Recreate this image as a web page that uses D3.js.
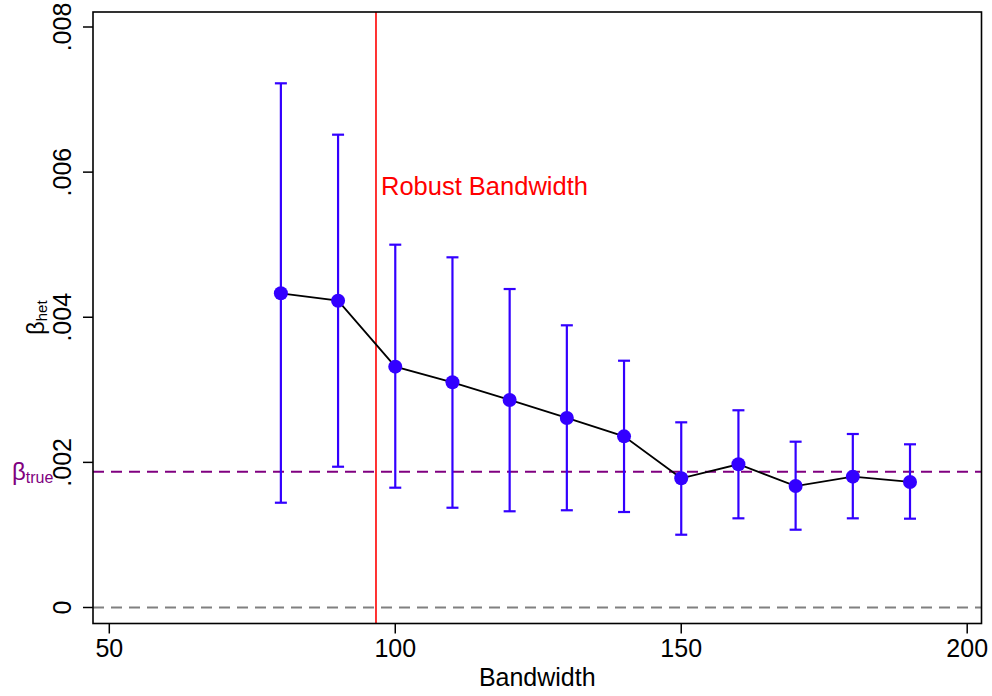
<!DOCTYPE html>
<html>
<head>
<meta charset="utf-8">
<script src="https://cdn.jsdelivr.net/npm/d3@7"></script>
<style>
  html, body { margin: 0; padding: 0; background: #fff; }
  svg { display: block; }
  text { font-family: "Liberation Sans", Arial, Helvetica, sans-serif; }
</style>
</head>
<body>
<svg id="chart" width="992" height="696"></svg>
<script>
// ---- data ----
const bandwidths = [80, 90, 100, 110, 120, 130, 140, 150, 160, 170, 180, 190];
const estimates  = [0.004330, 0.004228, 0.003319, 0.003104, 0.002860, 0.002612, 0.002359, 0.001781, 0.001974, 0.001674, 0.001803, 0.001730];
const ciUpper    = [0.007224, 0.006516, 0.005000, 0.004826, 0.004389, 0.003889, 0.003401, 0.002552, 0.002718, 0.002285, 0.002391, 0.002249];
const ciLower    = [0.001444, 0.001940, 0.001651, 0.001375, 0.001326, 0.001340, 0.001316, 0.001003, 0.001229, 0.001072, 0.001229, 0.001224];
const betaTrue = 0.001872;
const robustBandwidth = 96.63;
const xTicks = [50, 100, 150, 200];
const yTicks = [0, 0.002, 0.004, 0.006, 0.008];
const yTickLabels = ["0", ".002", ".004", ".006", ".008"];
const xTitle = "Bandwidth";
const robustLabel = "Robust Bandwidth";

// ---- layout ----
const svg = d3.select("#chart");
const frame = { left: 93, right: 981.5, top: 12, bottom: 623.5 };
const x = d3.scaleLinear().domain([50, 200]).range([109.3, 967.2]);
const y = d3.scaleLinear().domain([0, 0.008]).range([607.5, 27]);
const blue = "#3300ff";
const fs = 25;

const data = bandwidths.map((b, i) => ({ b, est: estimates[i], hi: ciUpper[i], lo: ciLower[i] }));

// zero line
svg.append("line")
  .attr("x1", frame.left).attr("x2", frame.right)
  .attr("y1", y(0)).attr("y2", y(0))
  .attr("stroke", "#808080").attr("stroke-width", 2)
  .attr("stroke-dasharray", "11,7");

// beta true line
svg.append("line")
  .attr("x1", frame.left).attr("x2", frame.right)
  .attr("y1", y(betaTrue)).attr("y2", y(betaTrue))
  .attr("stroke", "#800080").attr("stroke-width", 2)
  .attr("stroke-dasharray", "11,7");

// robust bandwidth line
svg.append("line")
  .attr("x1", x(robustBandwidth)).attr("x2", x(robustBandwidth))
  .attr("y1", frame.top).attr("y2", frame.bottom)
  .attr("stroke", "#ff0000").attr("stroke-width", 1.6);

svg.append("text")
  .attr("x", x(robustBandwidth) + 5).attr("y", 195)
  .attr("fill", "#ff0000").attr("font-size", 25.5)
  .text(robustLabel);

// error bars
const eb = svg.append("g").attr("stroke", blue).attr("stroke-width", 2.2);
data.forEach(d => {
  eb.append("line").attr("x1", x(d.b)).attr("x2", x(d.b)).attr("y1", y(d.hi)).attr("y2", y(d.lo));
  eb.append("line").attr("x1", x(d.b) - 6).attr("x2", x(d.b) + 6).attr("y1", y(d.hi)).attr("y2", y(d.hi));
  eb.append("line").attr("x1", x(d.b) - 6).attr("x2", x(d.b) + 6).attr("y1", y(d.lo)).attr("y2", y(d.lo));
});

// connecting line
svg.append("path")
  .datum(data)
  .attr("fill", "none").attr("stroke", "#000").attr("stroke-width", 1.8)
  .attr("d", d3.line().x(d => x(d.b)).y(d => y(d.est)));

// points
svg.append("g").selectAll("circle").data(data).join("circle")
  .attr("cx", d => x(d.b)).attr("cy", d => y(d.est)).attr("r", 7)
  .attr("fill", blue);

// frame
svg.append("rect")
  .attr("x", frame.left).attr("y", frame.top)
  .attr("width", frame.right - frame.left).attr("height", frame.bottom - frame.top)
  .attr("fill", "none").attr("stroke", "#000").attr("stroke-width", 1.6);

// x axis ticks
const xa = svg.append("g");
xTicks.forEach(t => {
  xa.append("line").attr("x1", x(t)).attr("x2", x(t)).attr("y1", frame.bottom).attr("y2", frame.bottom + 10)
    .attr("stroke", "#000").attr("stroke-width", 1.5);
  xa.append("text").attr("x", x(t)).attr("y", 656.5).attr("text-anchor", "middle")
    .attr("font-size", fs).text(t);
});
svg.append("text").attr("x", (frame.left + frame.right) / 2).attr("y", 686)
  .attr("text-anchor", "middle").attr("font-size", fs).text(xTitle);

// y axis ticks
const ya = svg.append("g");
yTicks.forEach((t, i) => {
  ya.append("line").attr("x1", frame.left - 10).attr("x2", frame.left).attr("y1", y(t)).attr("y2", y(t))
    .attr("stroke", "#000").attr("stroke-width", 1.5);
  ya.append("text").attr("transform", `translate(71,${y(t)}) rotate(-90)`)
    .attr("text-anchor", "middle").attr("font-size", fs).text(yTickLabels[i]);
});

// y title: beta_het
const yt = svg.append("text")
  .attr("transform", `translate(44,${(frame.top + frame.bottom) / 2}) rotate(-90)`)
  .attr("text-anchor", "middle");
yt.append("tspan").attr("font-size", 24).text("β");
yt.append("tspan").attr("font-size", 15).attr("dy", 3).text("het");

// beta_true label
const bt = svg.append("text").attr("x", 12).attr("y", 479.5).attr("fill", "#800080");
bt.append("tspan").attr("font-size", 24).text("β");
bt.append("tspan").attr("font-size", 16).attr("dy", 3.5).text("true");
</script>
</body>
</html>
